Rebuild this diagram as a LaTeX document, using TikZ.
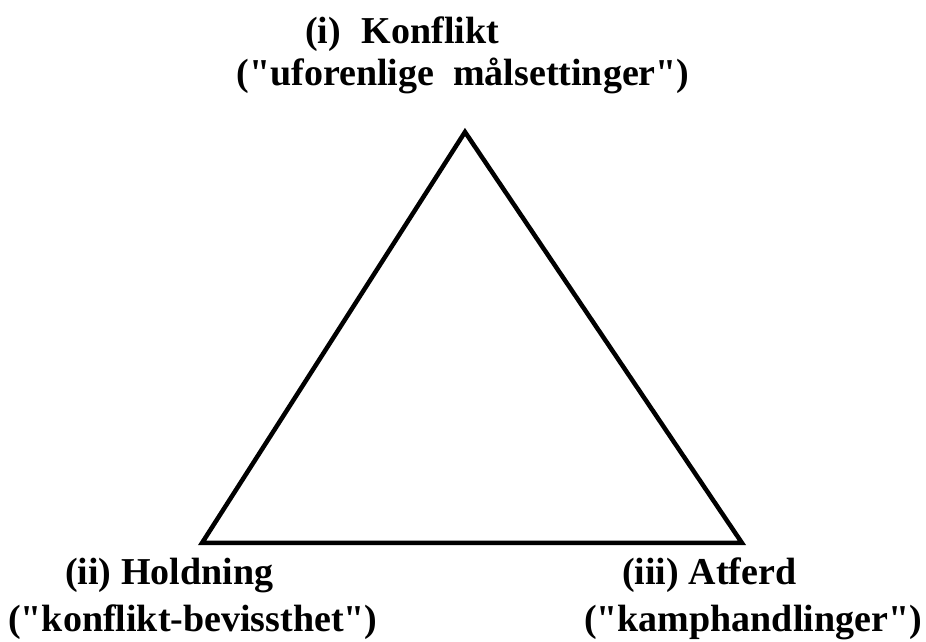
\documentclass[tikz,border=0pt]{standalone}
\usepackage{fontspec}
\setmainfont{Liberation Serif}[Ligatures=TeXOff]
\begin{document}
\begin{tikzpicture}[x=1pt,y=1pt,
  lbl/.style={inner sep=0pt,font=\bfseries\fontsize{38}{40}\selectfont},
  edge/.style={line width=4.5pt,line join=miter}]
\useasboundingbox (0,0) rectangle (926,642);
\coordinate (apex) at (465,510);
\coordinate (bl) at (202,99);
\coordinate (br) at (742,99);
\draw[edge] (apex) -- (bl) -- (br) -- cycle;
\node[lbl,anchor=base west] (t1) at (305,598) {(i)\hspace{0.55em}Konflikt};
\node[lbl,anchor=base] (t2) at (463,556) {("uforenlige\hspace{0.5em}målsettinger")};
\node[lbl,anchor=base west] (l1) at (65,57) {(ii) Holdning};
\node[lbl,anchor=base west] (l2) at (8,10) {("konflikt-bevissthet")};
\node[lbl,anchor=base west] (r1) at (622,57) {(iii) Atferd};
\node[lbl,anchor=base east] (r2) at (922,10) {("kamphandlinger")};
\end{tikzpicture}
\end{document}
